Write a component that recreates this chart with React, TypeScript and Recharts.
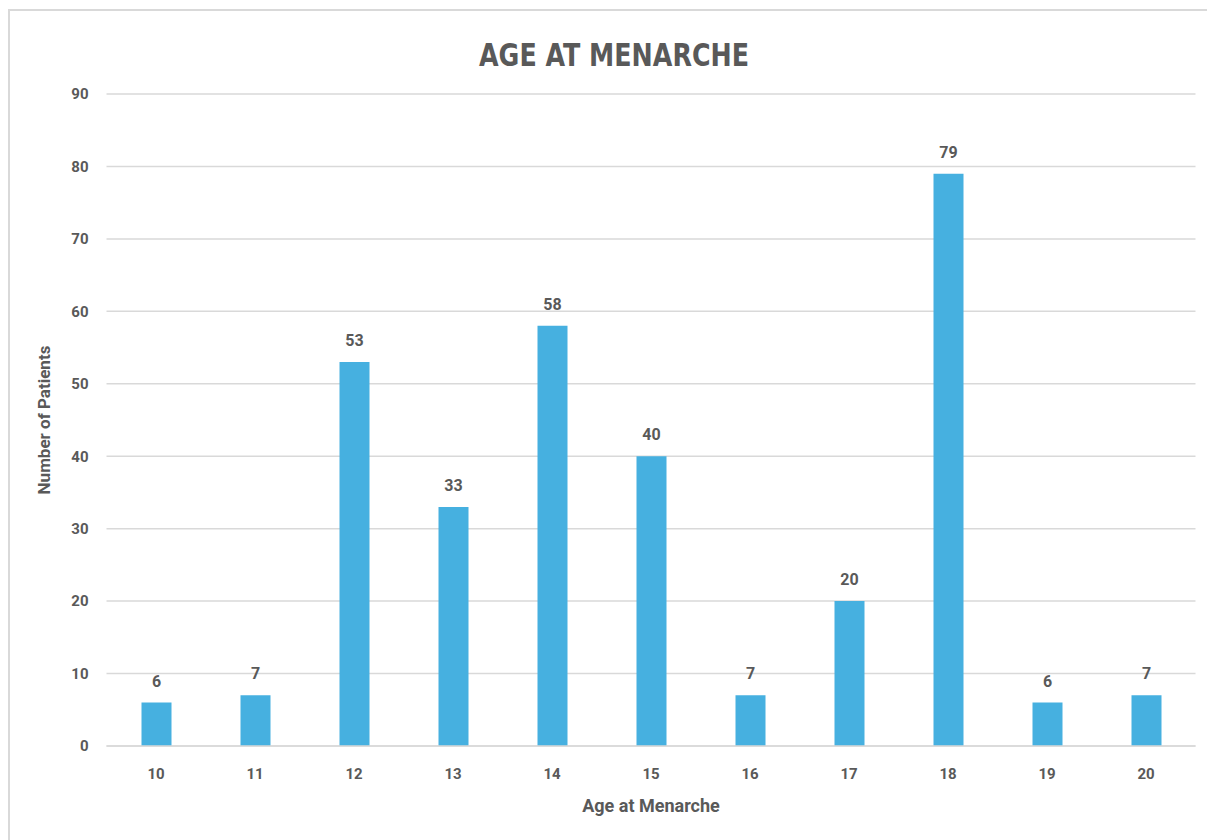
import { BarChart, Bar, XAxis, YAxis, CartesianGrid, LabelList } from "recharts";

const ages = ["10", "11", "12", "13", "14", "15", "16", "17", "18", "19", "20"];
const patients = [6, 7, 53, 33, 58, 40, 7, 20, 79, 6, 7];
const yTicks = [0, 10, 20, 30, 40, 50, 60, 70, 80, 90];

const data = ages.map((age, i) => ({ age, patients: patients[i] }));

const grey = "#595959";
const tickFont = { fill: grey, fontSize: 15, fontWeight: 700, fontFamily: "Roboto, 'Liberation Sans', sans-serif" };

export default function App() {
  return (
    <div style={{ position: "absolute", left: 0, top: 0, width: 1207, height: 840, background: "#fff", overflow: "hidden" }}>
      <div
        style={{
          position: "absolute",
          left: 8,
          top: 9,
          width: 1300,
          height: 900,
          border: "2px solid #d9d9d9",
        }}
      />
      <div
        style={{
          position: "absolute",
          left: 0,
          top: 36,
          width: 1228,
          textAlign: "center",
          fontFamily: "'Liberation Sans Narrow', 'DejaVu Sans Condensed', sans-serif",
          fontWeight: 700,
          fontSize: 32,
          color: grey,
          transform: "scaleX(0.88)",
        }}
      >
        AGE AT MENARCHE
      </div>
      <div style={{ position: "absolute", left: 0, top: 0 }}>
        <BarChart
          width={1207}
          height={840}
          data={data}
          margin={{ top: 94, right: 11.5, bottom: 64, left: 60 }}
          barSize={30}
        >
          <CartesianGrid vertical={false} stroke="#d9d9d9" strokeWidth={1.5} />
          <XAxis
            dataKey="age"
            height={30}
            tickLine={false}
            axisLine={{ stroke: "#d9d9d9", strokeWidth: 1.5 }}
            tick={tickFont}
            tickMargin={16}
            label={{
              value: "Age at Menarche",
              position: "insideBottom",
              offset: -36,
              style: { fill: grey, fontSize: 18, fontWeight: 700, fontFamily: "Roboto, sans-serif" },
            }}
          />
          <YAxis
            width={46.5}
            domain={[0, 90]}
            ticks={yTicks}
            interval={0}
            tickLine={false}
            axisLine={false}
            tick={tickFont}
            tickMargin={12}
            label={{
              value: "Number of Patients",
              angle: -90,
              position: "insideLeft",
              offset: -16,
              style: { textAnchor: "middle", fill: grey, fontSize: 17, fontWeight: 700, fontFamily: "Roboto, sans-serif" },
            }}
          />
          <Bar dataKey="patients" fill="#46B0E0" isAnimationActive={false}>
            <LabelList
              dataKey="patients"
              position="top"
              offset={16}
              style={{ fill: grey, fontSize: 16, fontWeight: 700, fontFamily: "Roboto, sans-serif" }}
            />
          </Bar>
        </BarChart>
      </div>
    </div>
  );
}
